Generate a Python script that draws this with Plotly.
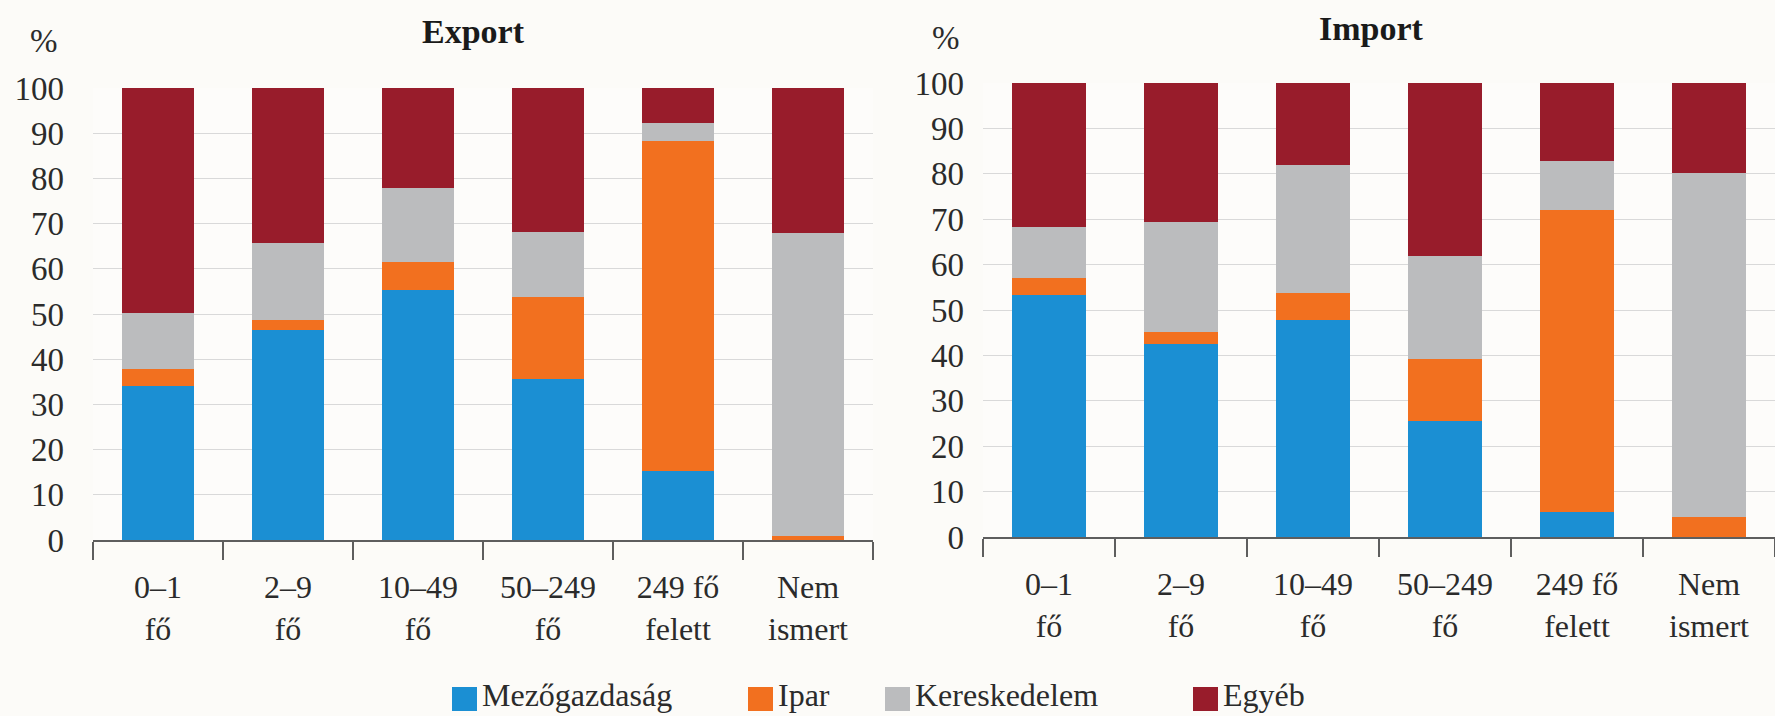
import plotly.graph_objects as go

categories = ["0–1<br>fő", "2–9<br>fő", "10–49<br>fő", "50–249<br>fő", "249 fő<br>felett", "Nem<br>ismert"]
series_names = ["Mezőgazdaság", "Ipar", "Kereskedelem", "Egyéb"]
series_colors = ["#1b8fd3", "#f2701f", "#bbbcbe", "#981c2b"]

export_mezogazdasag = [34.0, 46.5, 55.3, 35.7, 15.3, 0.0]
export_ipar = [3.9, 2.2, 6.3, 18.0, 73.0, 0.8]
export_kereskedelem = [12.4, 17.1, 16.3, 14.4, 3.9, 67.2]
export_egyeb = [49.7, 34.2, 22.1, 31.9, 7.8, 32.0]

import_mezogazdasag = [53.2, 42.6, 47.8, 25.5, 5.4, 0.0]
import_ipar = [3.9, 2.5, 5.9, 13.8, 66.7, 4.3]
import_kereskedelem = [11.2, 24.3, 28.3, 22.5, 10.8, 75.8]
import_egyeb = [31.7, 30.6, 18.0, 38.2, 17.1, 19.9]

y_ticks = [0, 10, 20, 30, 40, 50, 60, 70, 80, 90, 100]

FONT = "Liberation Serif"
TXT = "#2b2b2b"
W, H = 1775, 716

fig = go.Figure()
export_series = [export_mezogazdasag, export_ipar, export_kereskedelem, export_egyeb]
import_series = [import_mezogazdasag, import_ipar, import_kereskedelem, import_egyeb]
for name, color, ev, iv in zip(series_names, series_colors, export_series, import_series):
    fig.add_trace(go.Bar(x=categories, y=ev, name=name, marker=dict(color=color, line=dict(width=0)),
                         xaxis="x", yaxis="y", showlegend=False))
    fig.add_trace(go.Bar(x=categories, y=iv, name=name, marker=dict(color=color, line=dict(width=0)),
                         xaxis="x2", yaxis="y2", showlegend=False))


def xd(a, b):
    return [a / W, min(b / W, 1.0)]


def yd(bottom_px, top_px):
    return [(H - bottom_px) / H, (H - top_px) / H]


def px_x(p):
    return p / W


def px_y(p):
    return (H - p) / H


xaxis_common = dict(
    type="category", showgrid=False, showline=True, linecolor="#5e5e5e", linewidth=2,
    ticks="outside", tickson="boundaries", ticklen=18, tickwidth=2, tickcolor="#5e5e5e",
    tickfont=dict(family=FONT, size=32, color=TXT), zeroline=False, fixedrange=True,
    automargin=False, ticklabelstandoff=18,
)
yaxis_common = dict(
    range=[0, 100], tickvals=y_ticks, showgrid=True, gridcolor="#d9d9d9", gridwidth=1.2,
    showline=False, zeroline=False, ticks="",
    tickfont=dict(family=FONT, size=33, color=TXT), fixedrange=True, automargin=False,
)

# custom legend (large squares like the reference)
legend_square_x = [452, 748, 885, 1193]
legend_shapes = []
legend_annots = []
for name, color, sx in zip(series_names, series_colors, legend_square_x):
    legend_shapes.append(dict(type="rect", xref="paper", yref="paper",
                              x0=px_x(sx), x1=px_x(sx + 25), y0=px_y(711), y1=px_y(687),
                              fillcolor=color, line=dict(width=0)))
    legend_annots.append(dict(text=name, x=px_x(sx + 28), y=px_y(695), xref="paper", yref="paper",
                              xanchor="left", yanchor="middle", showarrow=False,
                              font=dict(family=FONT, size=32, color=TXT)))

fig.update_layout(
    width=W, height=H, autosize=False,
    margin=dict(l=0, r=0, t=0, b=0, pad=0),
    paper_bgcolor="#fcfbf8", plot_bgcolor="#fdfcfa",
    barmode="stack", bargap=0.445,
    font=dict(family=FONT, color=TXT),
    showlegend=False,
    xaxis=dict(domain=xd(93, 873), anchor="y", **xaxis_common),
    yaxis=dict(domain=yd(540, 88), anchor="x", ticklabelstandoff=28, **yaxis_common),
    xaxis2=dict(domain=xd(983, 1781), anchor="y2", **xaxis_common),
    yaxis2=dict(domain=yd(537, 83), anchor="x2", ticklabelstandoff=18, **yaxis_common),
    shapes=legend_shapes,
    annotations=[
        dict(text="<b>Export</b>", x=px_x(473), y=px_y(32), xref="paper", yref="paper",
             xanchor="center", yanchor="middle",
             showarrow=False, font=dict(family=FONT, size=34, color="#1a1a1a")),
        dict(text="<b>Import</b>", x=px_x(1371), y=px_y(28), xref="paper", yref="paper",
             xanchor="center", yanchor="middle",
             showarrow=False, font=dict(family=FONT, size=34, color="#1a1a1a")),
        dict(text="%", x=px_x(44), y=px_y(41), xref="paper", yref="paper",
             xanchor="center", yanchor="middle",
             showarrow=False, font=dict(family=FONT, size=33, color=TXT)),
        dict(text="%", x=px_x(946), y=px_y(38), xref="paper", yref="paper",
             xanchor="center", yanchor="middle",
             showarrow=False, font=dict(family=FONT, size=33, color=TXT)),
    ] + legend_annots,
)

fig.write_html("out.html", config={"displayModeBar": False},
               post_script="document.body.style.margin='0px';")
